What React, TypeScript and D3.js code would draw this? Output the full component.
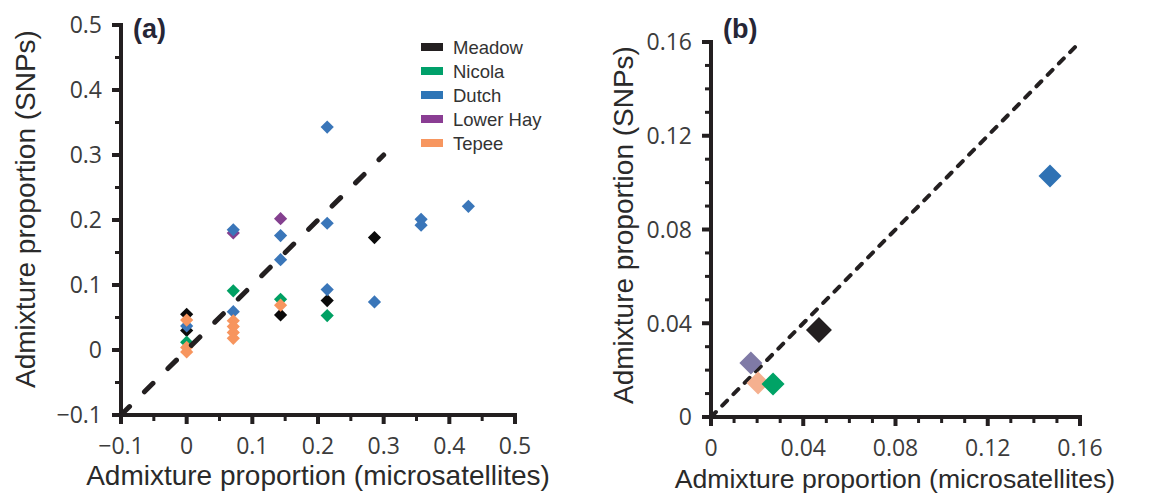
import * as d3 from "d3";

type Pt = [number, number];

const WIDTH = 1156;
const HEIGHT = 500;

// populations and legend colours
const POPS = ["Meadow", "Nicola", "Dutch", "Lower Hay", "Tepee"];
const LEGEND_COLORS = ["#231f20", "#00a06a", "#2e75b6", "#8a3d93", "#f7965f"];
const COLORS_A: Record<string, string> = {
  Meadow: "#0a0a0a",
  Nicola: "#00a063",
  Dutch: "#3a76b9",
  "Lower Hay": "#84408f",
  Tepee: "#f7955e",
};
const COLORS_B: Record<string, string> = {
  Meadow: "#231f20",
  Nicola: "#00a366",
  Dutch: "#2f72b4",
  "Lower Hay": "#7f7aa6",
  Tepee: "#f5b08f",
};

// panel (a): individual admixture proportions [microsatellites, SNPs]
const meadowA: Pt[] = [[0, 0.055], [0, 0.03], [0.143, 0.054], [0.214, 0.076], [0.286, 0.173]];
const nicolaA: Pt[] = [[0, 0.012], [0.071, 0.091], [0.143, 0.078], [0.214, 0.053]];
const lowerHayA: Pt[] = [[0.071, 0.18], [0.143, 0.202]];
const dutchA: Pt[] = [
  [0, 0.037], [0.071, 0.059], [0.071, 0.185], [0.143, 0.139], [0.143, 0.176],
  [0.214, 0.093], [0.214, 0.195], [0.214, 0.343], [0.286, 0.074],
  [0.357, 0.192], [0.357, 0.201], [0.429, 0.221],
];
const tepeeA: Pt[] = [
  [0, 0.046], [0, 0.004], [0, -0.003], [0.071, 0.045], [0.071, 0.036],
  [0.071, 0.027], [0.071, 0.018], [0.143, 0.069],
];

// panel (b): population means
const meansB = [
  { pop: "Lower Hay", x: 0.0173, y: 0.023 },
  { pop: "Tepee", x: 0.0204, y: 0.0145 },
  { pop: "Nicola", x: 0.0269, y: 0.0141 },
  { pop: "Meadow", x: 0.0468, y: 0.0371 },
  { pop: "Dutch", x: 0.147, y: 0.1028 },
];

const majorA = [-0.1, 0, 0.1, 0.2, 0.3, 0.4, 0.5];
const minorA = [-0.05, 0.05, 0.15, 0.25, 0.35, 0.45];
const labelsA = ["\u22120.1", "0", "0.1", "0.2", "0.3", "0.4", "0.5"];
const majorB = [0, 0.04, 0.08, 0.12, 0.16];
const minorB = [0.01, 0.02, 0.03, 0.05, 0.06, 0.07, 0.09, 0.1, 0.11, 0.13, 0.14, 0.15];
const labelsB = ["0", "0.04", "0.08", "0.12", "0.16"];
const identityA: Pt[] = [[-0.1, -0.1], [0.3, 0.3]];
const identityB: Pt[] = [[0, 0], [0.16, 0.16]];

const INK = "#231f20";
const TICK_FONT = "'Open Sans', 'Liberation Sans', sans-serif";
const TITLE_FONT = "'Liberation Sans', Arial, sans-serif";

function diamond(half: number) {
  return d3.symbol(d3.symbolSquare, 2 * half * half)() ?? "";
}

type AxesProps = {
  x: d3.ScaleLinear<number, number>;
  y: d3.ScaleLinear<number, number>;
  major: number[];
  minor: number[];
  labels: string[];
};

function Axes({ x, y, major, minor, labels }: AxesProps) {
  const [x0, x1] = x.range();
  const [y0, y1] = y.range();
  return (
    <g>
      <line x1={x0} x2={x0} y1={y1 - 2} y2={y0 + 2} stroke={INK} strokeWidth={4} />
      <line x1={x0 - 2} x2={x1 + 2} y1={y0} y2={y0} stroke={INK} strokeWidth={4} />
      {major.map((t) => (
        <g key={`M${t}`}>
          <line x1={x0} x2={x0 - 9} y1={y(t)} y2={y(t)} stroke={INK} strokeWidth={4} />
          <line x1={x(t)} x2={x(t)} y1={y0} y2={y0 + 9} stroke={INK} strokeWidth={4} />
        </g>
      ))}
      {minor.map((t) => (
        <g key={`m${t}`}>
          <line x1={x0} x2={x0 - 6} y1={y(t)} y2={y(t)} stroke={INK} strokeWidth={3} />
          <line x1={x(t)} x2={x(t)} y1={y0} y2={y0 + 6} stroke={INK} strokeWidth={3} />
        </g>
      ))}
      {major.map((t, i) => (
        <g key={`l${t}`} fontFamily={TICK_FONT} fontSize={23} fill="#3c3c3c">
          <text x={x0 - 19} y={y(t)} dy="0.36em" textAnchor="end">
            {labels[i]}
          </text>
          <text x={x(t)} y={y0 + 39} textAnchor="middle">
            {labels[i]}
          </text>
        </g>
      ))}
    </g>
  );
}

function PanelA() {
  const x = d3.scaleLinear().domain([-0.1, 0.5]).range([121, 515]);
  const y = d3.scaleLinear().domain([-0.1, 0.5]).range([415, 25]);
  const line = d3.line<Pt>().x((d) => x(d[0])).y((d) => y(d[1]));
  const groups: [string, Pt[]][] = [
    ["Meadow", meadowA],
    ["Nicola", nicolaA],
    ["Lower Hay", lowerHayA],
    ["Dutch", dutchA],
    ["Tepee", tepeeA],
  ];
  const path = diamond(6.6);
  return (
    <g>
      <Axes x={x} y={y} major={majorA} minor={minorA} labels={labelsA} />
      {groups.map(([pop, pts]) =>
        pts.map((d, i) => (
          <path key={`${pop}${i}`} d={path} fill={COLORS_A[pop]} transform={`translate(${x(d[0])},${y(d[1])}) rotate(45)`} />
        ))
      )}
      <path d={line(identityA) ?? undefined} fill="none" stroke={INK} strokeWidth={5} strokeDasharray="12 21" strokeLinecap="round" />
      <text x={133} y={38} fontFamily={TITLE_FONT} fontWeight="bold" fontSize={27} fill="#262636">
        (a)
      </text>
      <g fontFamily={TITLE_FONT} fontSize={18.5} fill="#333">
        {POPS.map((p, i) => (
          <g key={p} transform={`translate(0,${47 + i * 24})`}>
            <rect x={421} y={-4} width={22} height={8} fill={LEGEND_COLORS[i]} />
            <text x={453} dy="0.36em">
              {p}
            </text>
          </g>
        ))}
      </g>
      <text x={318} y={485} textAnchor="middle" fontFamily={TITLE_FONT} fontSize={28} fill="#2a2a2a">
        Admixture proportion (microsatellites)
      </text>
      <text transform="translate(35,209) rotate(-90)" textAnchor="middle" fontFamily={TITLE_FONT} fontSize={28} fill="#2a2a2a">
        Admixture proportion (SNPs)
      </text>
    </g>
  );
}

function PanelB() {
  const x = d3.scaleLinear().domain([0, 0.16]).range([711, 1080]);
  const y = d3.scaleLinear().domain([0, 0.16]).range([417, 42]);
  const line = d3.line<Pt>().x((d) => x(d[0])).y((d) => y(d[1]));
  return (
    <g>
      <Axes x={x} y={y} major={majorB} minor={minorB} labels={labelsB} />
      <path d={line(identityB) ?? undefined} fill="none" stroke={INK} strokeWidth={4} strokeDasharray="7 9" strokeLinecap="round" />
      {meansB.map((d) => (
        <path
          key={d.pop}
          d={diamond(d.pop === "Meadow" ? 13 : 11.5)}
          fill={COLORS_B[d.pop]}
          transform={`translate(${x(d.x)},${y(d.y)}) rotate(45)`}
        />
      ))}
      <text x={723} y={38} fontFamily={TITLE_FONT} fontWeight="bold" fontSize={27} fill="#262636">
        (b)
      </text>
      <text x={895} y={488} textAnchor="middle" fontFamily={TITLE_FONT} fontSize={26.6} fill="#2a2a2a">
        Admixture proportion (microsatellites)
      </text>
      <text transform="translate(633,225) rotate(-90)" textAnchor="middle" fontFamily={TITLE_FONT} fontSize={28} fill="#2a2a2a">
        Admixture proportion (SNPs)
      </text>
    </g>
  );
}

export default function App() {
  return (
    <>
      <style>{"body{margin:0}"}</style>
      <svg width={WIDTH} height={HEIGHT} viewBox={`0 0 ${WIDTH} ${HEIGHT}`} style={{ display: "block", background: "#fff" }}>
        <PanelA />
        <PanelB />
      </svg>
    </>
  );
}
